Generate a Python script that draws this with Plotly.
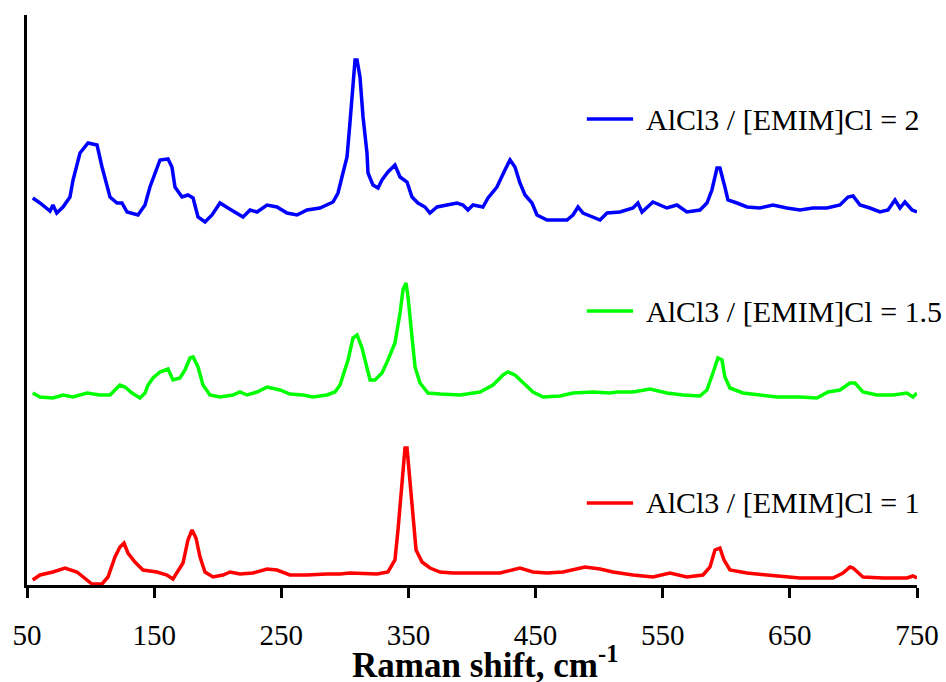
import plotly.graph_objects as go

# ---------------- data ----------------
x_tick_vals = [50, 150, 250, 350, 450, 550, 650, 750]
x_tick_text = ["50", "150", "250", "350", "450", "550", "650", "750"]
x_title = "<b>Raman shift, cm<sup>-1</sup></b>"

labels = ["AlCl3 / [EMIM]Cl = 2", "AlCl3 / [EMIM]Cl = 1.5", "AlCl3 / [EMIM]Cl = 1"]
colors = ["#0000FF", "#00FF00", "#FF0000"]

# ratio 2 (blue, top)
shift_2 = [54.5, 60.2, 68.1, 70.4, 73.4, 78.3, 83.8, 86.2, 91.7, 98.0, 105.1, 109.0, 115.3, 120.8,
           124.7, 128.7, 137.3, 142.8, 146.7, 150.7, 154.6, 160.9, 164.0, 166.4, 171.9, 176.6, 180.6,
           184.5, 190.0, 195.5, 201.8, 208.1, 215.2, 219.9, 225.4, 230.9, 238.8, 246.6, 254.5, 262.4,
           270.2, 280.4,
           290.7, 294.6, 298.5, 301.7, 304.0, 306.4, 308.0, 309.6, 311.9, 314.3, 317.4, 318.2, 322.1,
           326.1, 329.2, 333.9, 339.4, 343.4, 348.9, 352.8, 357.5, 363.0, 366.9, 372.5, 380.3, 388.2,
           392.9, 396.8, 400.8, 408.6, 412.6, 419.6, 425.9, 429.9, 433.8, 437.7, 441.7, 447.2, 451.1,
           459.0, 466.8, 474.7, 479.4, 483.4, 487.3, 495.2, 500.7, 506.2, 516.4,
           526.6, 530.5, 533.7, 542.3, 553.3, 561.2, 569.0, 579.3, 584.8, 588.7, 592.7, 595.0, 598.9,
           601.3, 608.4, 616.3, 626.5, 636.7, 647.7, 657.9, 668.2, 679.2, 689.4, 695.7, 699.7, 705.2,
           713.0, 720.9, 727.2, 732.7, 736.6, 740.5, 746.1, 750.0]
intensity_2 = [387, 382, 374, 380, 372, 378, 388, 405, 432, 442, 440, 418, 388, 382,
               382, 373, 370, 380, 398, 413, 425, 426, 418, 398, 388, 390, 387,
               368, 363, 370, 382, 377, 372, 368, 375, 373, 380, 378, 372, 370,
               375, 377,
               383, 392, 412, 428, 462, 502, 525, 525, 508, 468, 432, 412, 400,
               397, 405, 413, 420, 408, 403, 388, 382, 378, 372, 378, 380, 382,
               380, 375, 380, 378, 387, 398, 415, 425, 418, 402, 390, 382, 370,
               365, 365, 365, 370, 378, 372, 368, 365, 372, 373,
               377, 382, 373, 383, 377, 380, 373, 375, 382, 395, 417, 417, 398,
               385, 382, 378, 377, 380, 377, 375, 377, 377, 380, 388, 389, 380,
               377, 373, 375, 385, 377, 383, 375, 373]

# ratio 1.5 (green, middle)
shift_15 = [54.5, 60.2, 70.4, 78.3, 86.2, 97.2, 107.4, 115.3, 119.2, 123.1, 127.1, 132.6, 138.9,
            142.8, 145.2, 149.1, 154.6, 160.9, 164.8, 170.3, 174.3, 178.2, 180.6, 184.5, 188.4,
            193.9, 201.8, 212.0, 217.5, 223.0, 230.9, 238.8, 249.0, 256.8, 267.1, 274.9, 285.9,
            292.2, 296.2,
            302.5, 306.4, 309.6, 313.5, 317.4, 319.8, 323.7, 329.2, 333.9, 339.4, 343.4, 345.7,
            348.1, 349.7, 352.8, 355.2, 359.1, 365.4, 374.8, 390.6, 406.3, 416.5, 424.4, 428.3,
            433.8, 440.1, 448.0, 455.8, 469.2, 479.4, 495.2, 508.5,
            514.0, 526.6, 540.0, 553.3, 565.9, 579.3, 584.8, 589.5, 593.4, 596.6, 598.9, 602.9,
            613.1, 626.5, 639.9, 657.9, 671.3, 680.0, 689.4, 697.3, 701.2, 707.5, 718.5, 731.1,
            742.1, 746.8, 750.0]
intensity_15 = [192, 188, 187, 190, 188, 192, 190, 190, 195, 200, 198, 192, 187,
                192, 200, 207, 213, 216, 205, 207, 215, 227, 228, 218, 200,
                190, 188, 190, 193, 190, 193, 198, 195, 191, 190, 188, 190,
                193, 200,
                225, 247, 250, 237, 215, 205, 205, 212, 225, 242, 272, 295,
                302, 288, 248, 218, 202, 192, 191, 190, 193, 200, 210, 213,
                210, 202, 193, 188, 189, 192, 193, 192,
                193, 193, 196, 192, 190, 189, 195, 212, 227, 225, 208, 197,
                192, 190, 188, 188, 187, 193, 195, 202, 202, 193, 190, 190,
                192, 188, 192]

# ratio 1 (red, bottom)
shift_1 = [54.5, 60.2, 70.4, 79.9, 89.3, 95.6, 101.1, 109.0, 113.7, 119.2, 123.1, 126.3, 129.4,
           134.9, 141.2, 152.2, 160.1, 164.8, 168.0, 172.7, 176.6, 179.8, 182.9, 186.1, 190.0,
           196.3, 204.2, 209.7, 217.5, 227.7, 238.8, 246.6, 256.8, 270.2, 285.9, 296.2,
           304.0, 325.3, 333.9, 339.4, 341.8, 344.9, 347.3, 348.9, 351.2, 353.6, 356.0, 360.7,
           367.0, 374.8, 385.1, 396.1, 408.6, 422.0, 437.7, 448.0, 459.0, 471.6, 488.9, 500.7,
           510.9, 526.6, 542.3, 555.7, 569.0, 581.7, 587.2, 591.1, 595.0, 598.2, 602.9, 616.3,
           632.0, 642.2, 657.9, 668.2, 683.9, 691.8, 697.3, 699.7, 707.5, 723.2, 742.1, 746.8,
           750.0]
intensity_1 = [5, 10, 13, 17, 13, 7, 1, 1, 8, 28, 38, 42, 32,
               23, 15, 13, 10, 6, 13, 22, 45, 55, 47, 28, 13,
               8, 10, 13, 11, 12, 16, 15, 10, 10, 11, 11,
               12, 11, 13, 25, 55, 105, 137, 137, 105, 65, 35, 23,
               17, 13, 12, 12, 12, 12, 17, 13, 12, 13, 18, 16,
               13, 10, 8, 12, 8, 10, 18, 35, 37, 25, 15, 12,
               10, 9, 7, 7, 7, 12, 18, 17, 8, 7, 7, 9,
               7]

series_x = [shift_2, shift_15, shift_1]
series_y = [intensity_2, intensity_15, intensity_1]

# ---------------- figure ----------------
W, H = 946, 682
ML, MR, MT, MB = 27, 29, 15, 97
FONT = "Times New Roman, Liberation Serif, serif"

fig = go.Figure()
for xs, ys, name, col in zip(series_x, series_y, labels, colors):
    fig.add_trace(go.Scatter(x=xs, y=ys, mode="lines", name=name,
                             line=dict(color=col, width=3.5), showlegend=False))

# label keys placed beside each spectrum (paper coordinates)
key_y = [0.8175, 0.4807, 0.1439]
for name, col, ky in zip(labels, colors, key_y):
    fig.add_shape(type="line", xref="paper", yref="paper",
                  x0=0.629, x1=0.681, y0=ky, y1=ky,
                  line=dict(color=col, width=3.5))
    fig.add_annotation(xref="paper", yref="paper", x=0.6934, y=ky,
                       xanchor="left", yanchor="middle", showarrow=False,
                       text=name, font=dict(family=FONT, size=30, color="black"))

# x-axis title
fig.add_annotation(xref="paper", yref="paper", x=0.5146, y=-0.1365,
                   xanchor="center", yanchor="middle", showarrow=False,
                   text=x_title, font=dict(family=FONT, size=35, color="black"))

fig.update_layout(
    width=W, height=H,
    margin=dict(l=ML, r=MR, t=MT, b=MB, pad=0, autoexpand=False),
    paper_bgcolor="white", plot_bgcolor="white",
    font=dict(family=FONT, color="black"),
    showlegend=False,
)
fig.update_xaxes(
    range=[50, 750], tickvals=x_tick_vals, ticktext=x_tick_text,
    showgrid=False, zeroline=False, automargin=False,
    showline=True, linecolor="black", linewidth=3,
    ticks="outside", ticklen=10, tickwidth=3, tickcolor="black",
    ticklabelstandoff=12,
    tickfont=dict(family=FONT, size=29, color="black"),
)
fig.update_yaxes(
    range=[0, 570], showgrid=False, zeroline=False, automargin=False,
    showline=True, linecolor="black", linewidth=3,
    ticks="", showticklabels=False,
)

fig.write_html("out.html", config={"displayModeBar": False},
               post_script="document.body.style.margin='0';document.body.style.overflow='hidden';")
